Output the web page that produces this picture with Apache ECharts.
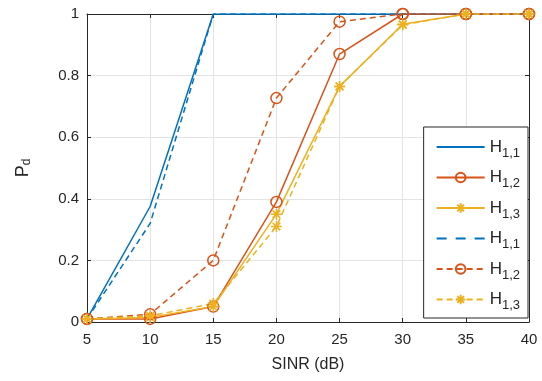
<!DOCTYPE html>
<html>
<head>
<meta charset="utf-8">
<script src="https://cdn.jsdelivr.net/npm/echarts@6/dist/echarts.min.js"></script>
<style>
html, body { margin: 0; padding: 0; background: #fff; }
#chart { width: 542px; height: 381px; }
</style>
</head>
<body>
<div id="chart"></div>
<script>
// 数据
var sinr = [5, 10, 15, 20, 25, 30, 35, 40];
var h11 = [0.01, 0.375, 1, 1, 1, 1, 1, 1];
var h12 = [0.01, 0.01, 0.05, 0.39, 0.87, 1, 1, 1];
var h13 = [0.01, 0.015, 0.05, 0.35, 0.765, 0.967, 1, 1];
var h11d = [0.01, 0.32, 1, 1, 1, 1, 1, 1];
var h12d = [0.01, 0.025, 0.2, 0.727, 0.975, 1, 1, 1];
var h13d = [0.01, 0.02, 0.06, 0.31, 0.765, 0.965, 1, 1];
var yTicks = [0, 0.2, 0.4, 0.6, 0.8, 1];

var blue = '#0072BD', red = '#D95319', yellow = '#EDB120';
var font = 'Liberation Sans, Arial, sans-serif';
var star = 'path://M0,-10L0,10M-10,0L10,0M-7,-7L7,7M-7,7L7,-7';
// 图例用线条图标
var solidIcon = 'path://M0,0L48,0L48,2L0,2Z';
var dashIcon = 'path://M0,0L10,0L10,2L0,2ZM19,0L29,0L29,2L19,2ZM38,0L48,0L48,2L38,2Z';

function pairs(vals) {
	var out = [];
	for (var i = 0; i < sinr.length; i++) out.push([sinr[i], vals[i]]);
	return out;
}

function makeSeries(name, vals, color, dashed, sym) {
	var s = {
		name: name,
		type: 'line',
		data: pairs(vals),
		lineStyle: { color: color, width: 1.5, type: dashed ? [6, 4] : 'solid' },
		symbol: 'none',
		animation: false
	};
	if (sym == 'circle') {
		s.symbol = 'circle';
		s.symbolSize = 11;
		s.itemStyle = { color: 'transparent', borderColor: color, borderWidth: 1.5 };
	} else if (sym == 'star') {
		s.symbol = star;
		s.symbolSize = 11;
		s.itemStyle = { color: 'transparent', borderColor: color, borderWidth: 1.5 };
	} else {
		s.itemStyle = { color: color };
	}
	return s;
}

var legendMap = { 'a': '1,1', 'b': '1,2', 'c': '1,3', 'd': '1,1', 'e': '1,2', 'f': '1,3' };

var myChart = echarts.init(document.getElementById('chart'));
var option = {
	animation: false,
	grid: { left: 87, right: 13, top: 14, bottom: 59 },
	xAxis: [{
		type: 'value', min: 5, max: 40, interval: 5,
		name: 'SINR (dB)', nameLocation: 'middle', nameGap: 35,
		nameTextStyle: { color: '#262626', fontSize: 16, fontFamily: font },
		axisLine: { lineStyle: { color: '#262626' } },
		axisTick: { inside: true, length: 4, lineStyle: { color: '#262626' } },
		axisLabel: { color: '#262626', fontSize: 15, fontFamily: font, margin: 10 },
		splitLine: { show: true, lineStyle: { color: '#e3e3e3' } }
	}, {
		type: 'value', min: 5, max: 40, interval: 5, position: 'top',
		axisLine: { show: true, onZero: false, lineStyle: { color: '#262626' } },
		axisTick: { inside: true, length: 4, lineStyle: { color: '#262626' } },
		axisLabel: { show: false }, splitLine: { show: false }
	}],
	yAxis: [{
		type: 'value', min: 0, max: 1, interval: 0.2,
		name: 'P{sub|d}', nameLocation: 'middle', nameGap: 54, nameRotate: 90,
		nameTextStyle: { color: '#262626', fontSize: 18, fontFamily: font,
			rich: { sub: { fontSize: 12, fontFamily: font, color: '#262626', verticalAlign: 'bottom', padding: [8, 0, 0, 0] } } },
		axisLine: { show: true, lineStyle: { color: '#262626' } },
		axisTick: { show: true, inside: true, length: 4, lineStyle: { color: '#262626' } },
		axisLabel: { color: '#262626', fontSize: 15, fontFamily: font, margin: 8 },
		splitLine: { show: true, lineStyle: { color: '#e3e3e3' } }
	}, {
		type: 'value', min: 0, max: 1, interval: 0.2, position: 'right',
		axisLine: { show: true, lineStyle: { color: '#262626' } },
		axisTick: { show: true, inside: true, length: 4, lineStyle: { color: '#262626' } },
		axisLabel: { show: false }, splitLine: { show: false }
	}],
	legend: {
		orient: 'vertical', right: 14, top: 127,
		itemWidth: 48, itemHeight: 12, itemGap: 7,
		padding: [9, 8, 6, 12],
		backgroundColor: '#fff', borderColor: '#262626', borderWidth: 1,
		formatter: function(n) { return 'H{sub|' + legendMap[n] + '}'; },
		textStyle: { color: '#262626', fontSize: 17, fontFamily: font, lineHeight: 22,
			rich: { sub: { fontSize: 13, fontFamily: font, color: '#262626', padding: [12, 0, 0, 0] } } },
		data: [
			{ name: 'a', icon: solidIcon, itemStyle: { color: blue } },
			'b', 'c',
			{ name: 'd', icon: dashIcon, itemStyle: { color: blue } },
			'e', 'f'
		]
	},
	series: [
		makeSeries('a', h11, blue, false, null),
		makeSeries('b', h12, red, false, 'circle'),
		makeSeries('c', h13, yellow, false, 'star'),
		makeSeries('d', h11d, blue, true, null),
		makeSeries('e', h12d, red, true, 'circle'),
		makeSeries('f', h13d, yellow, true, 'star')
	]
};
myChart.setOption(option);
</script>
</body>
</html>
